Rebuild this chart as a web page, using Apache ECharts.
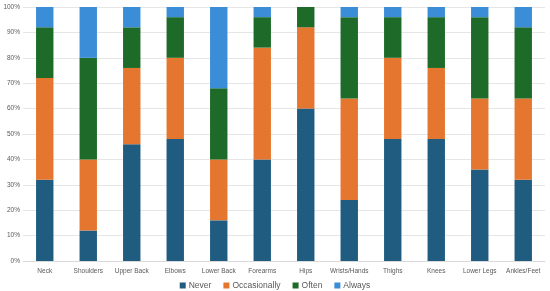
<!DOCTYPE html>
<html>
<head>
<meta charset="utf-8">
<script src="https://cdn.jsdelivr.net/npm/echarts@6/dist/echarts.min.js"></script>
<style>
  html, body { margin: 0; padding: 0; background: #fff; }
  #chart { width: 550px; height: 291px; }
</style>
</head>
<body>
<div id="chart"></div>
<script>
// body regions
var categories = ['Neck', 'Shoulders', 'Upper Back', 'Elbows', 'Lower Back', 'Forearms',
  'Hips', 'Wrists/Hands', 'Thighs', 'Knees', 'Lower Legs', 'Ankles/Feet']

// percent of respondents per answer
var never = [32, 12, 46, 48, 16, 40, 60, 24, 48, 48, 36, 32]
var occasionally = [40, 28, 30, 32, 24, 44, 32, 40, 32, 28, 28, 32]
var often = [20, 40, 16, 16, 28, 12, 8, 32, 16, 20, 32, 28]
var always = [8, 20, 8, 4, 32, 4, 0, 4, 4, 4, 4, 8]

var yTicks = [0, 10, 20, 30, 40, 50, 60, 70, 80, 90, 100]

var chart = echarts.init(document.getElementById('chart'))

function bar (name, data, color) {
  return {
    name: name,
    type: 'bar',
    stack: 'all',
    barWidth: '40%',
    itemStyle: { color: color },
    data: data
  }
}

chart.setOption({
  animation: false,
  textStyle: { fontFamily: 'Liberation Sans' },
  grid: { left: 23, right: 5, top: 7, bottom: 30 },
  legend: {
    top: 276,
    left: 'center',
    itemWidth: 6,
    itemHeight: 6,
    itemGap: 12,
    icon: 'rect',
    textStyle: { color: '#595959', fontSize: 8.5, padding: [0, 0, 0, -2] },
    data: ['Never', 'Occasionally', 'Often', 'Always']
  },
  xAxis: {
    type: 'category',
    data: categories,
    axisLine: { lineStyle: { color: '#d9d9d9' } },
    axisTick: { show: false },
    axisLabel: { color: '#595959', fontSize: 6.5, interval: 0, margin: 7 }
  },
  yAxis: {
    type: 'value',
    min: 0,
    max: 100,
    interval: 10,
    axisLabel: {
      color: '#595959',
      fontSize: 6.5,
      margin: 3,
      formatter: function (v) { return yTicks.indexOf(v) >= 0 ? v + '%' : '' }
    },
    splitLine: { lineStyle: { color: '#e6e6e6' } }
  },
  series: [
    bar('Never', never, '#1f5c80'),
    bar('Occasionally', occasionally, '#e5762f'),
    bar('Often', often, '#1e6a28'),
    bar('Always', always, '#3b8dd8')
  ]
})
</script>
</body>
</html>
